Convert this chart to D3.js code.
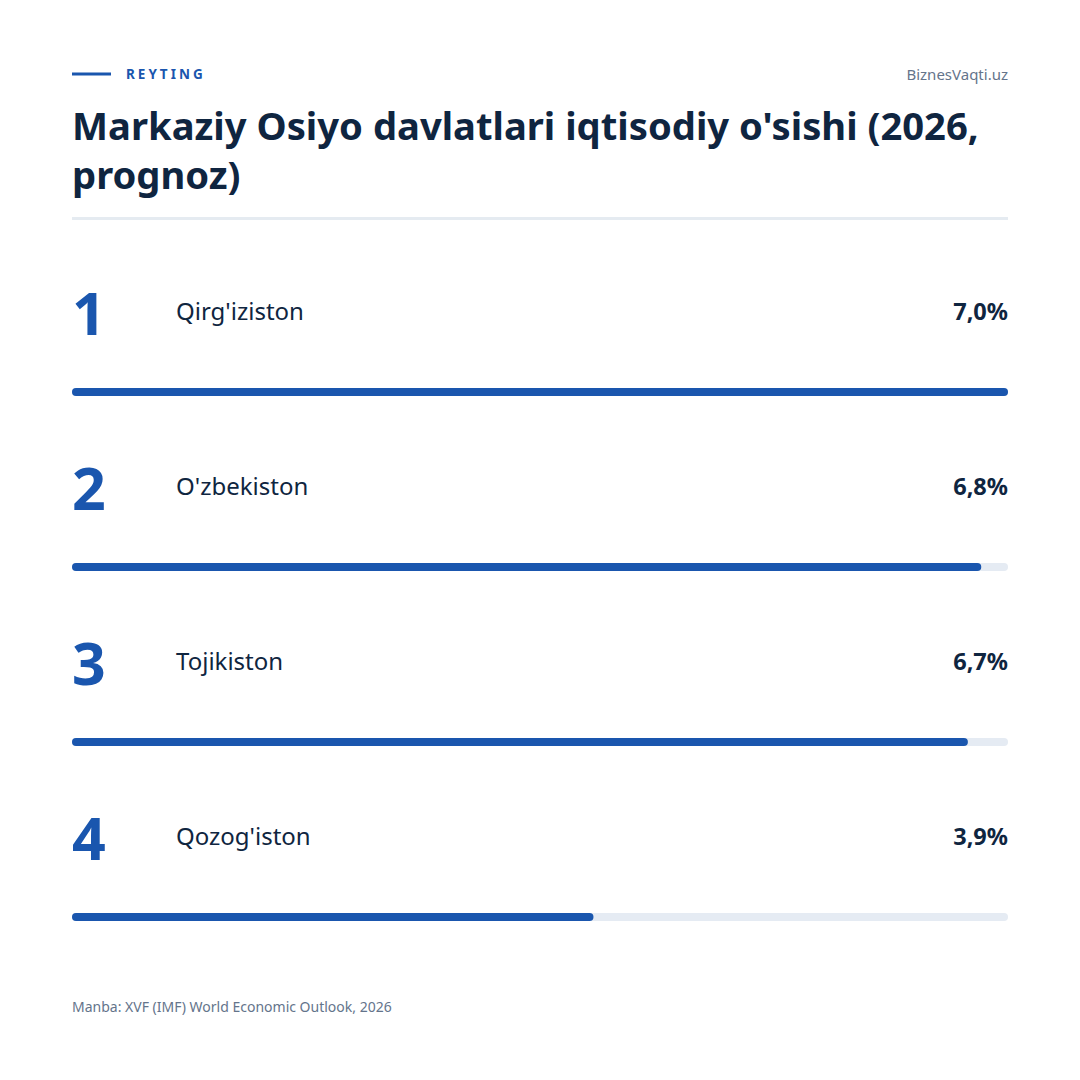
<!DOCTYPE html>
<html><head><meta charset="utf-8">
<script src="https://cdn.jsdelivr.net/npm/d3@7"></script>
<style>html,body{margin:0;padding:0;background:#fff;}svg{display:block;font-family:"Noto Sans","Open Sans",sans-serif;}</style>
</head><body>
<script>
const ranks = [1, 2, 3, 4];
const countries = ["Qirg'iziston", "O'zbekiston", "Tojikiston", "Qozog'iston"];
const growth = [7.0, 6.8, 6.7, 3.9];
const valueLabels = ["7,0%", "6,8%", "6,7%", "3,9%"];

const W = 1080, H = 1080, L = 72, R = 1008;
const blue = "#1a56ae", navy = "#0f2540", grey = "#64748b", track = "#e5ebf3";

const svg = d3.select("body").append("svg").attr("width", W).attr("height", H);

// header
svg.append("line").attr("x1", L).attr("x2", 111).attr("y1", 74).attr("y2", 74)
  .attr("stroke", blue).attr("stroke-width", 3);
svg.append("text").attr("x", 126).attr("y", 79).text("REYTING")
  .attr("fill", blue).attr("font-size", 13.5).attr("font-weight", 700).attr("letter-spacing", 3);
svg.append("text").attr("x", R).attr("y", 80).attr("text-anchor", "end").text("BiznesVaqti.uz")
  .attr("fill", grey).attr("font-size", 15);

// title
const title = svg.append("text").attr("fill", navy).attr("font-size", 38.2).attr("font-weight", 700);
title.append("tspan").attr("x", L).attr("y", 140).text("Markaziy Osiyo davlatlari iqtisodiy o'sishi (2026,");
title.append("tspan").attr("x", L).attr("y", 189).text("prognoz)");

svg.append("line").attr("x1", L).attr("x2", R).attr("y1", 218.5).attr("y2", 218.5)
  .attr("stroke", "#e5ebf1").attr("stroke-width", 3);

// scales
const x = d3.scaleLinear().domain([0, 7]).range([L, R]);
const y = d3.scaleBand().domain(ranks).range([224, 924]);
const data = ranks.map((r, i) => ({r, c: countries[i], v: growth[i], lab: valueLabels[i]}));

const g = svg.selectAll("g.row").data(data).join("g").attr("class", "row")
  .attr("transform", d => `translate(0,${y(d.r)})`);

g.append("text").attr("x", L).attr("y", 111).text(d => d.r)
  .attr("fill", blue).attr("font-size", 59).attr("font-weight", 700);
g.append("text").attr("x", 176).attr("y", 96).text(d => d.c)
  .attr("fill", navy).attr("font-size", 24);
g.append("text").attr("x", R).attr("y", 96).attr("text-anchor", "end").text(d => d.lab)
  .attr("fill", navy).attr("font-size", 23.5).attr("font-weight", 700);

const barY = 164, barH = 8;
g.append("rect").attr("x", L).attr("y", barY).attr("height", barH)
  .attr("width", x(7) - L).attr("rx", 4).attr("fill", track);
g.append("rect").attr("x", L).attr("y", barY).attr("height", barH)
  .attr("width", d => x(d.v) - L).attr("rx", 4).attr("fill", blue);

// footer
svg.append("text").attr("x", L).attr("y", 1012).text("Manba: XVF (IMF) World Economic Outlook, 2026")
  .attr("fill", grey).attr("font-size", 14);
</script>
</body></html>
